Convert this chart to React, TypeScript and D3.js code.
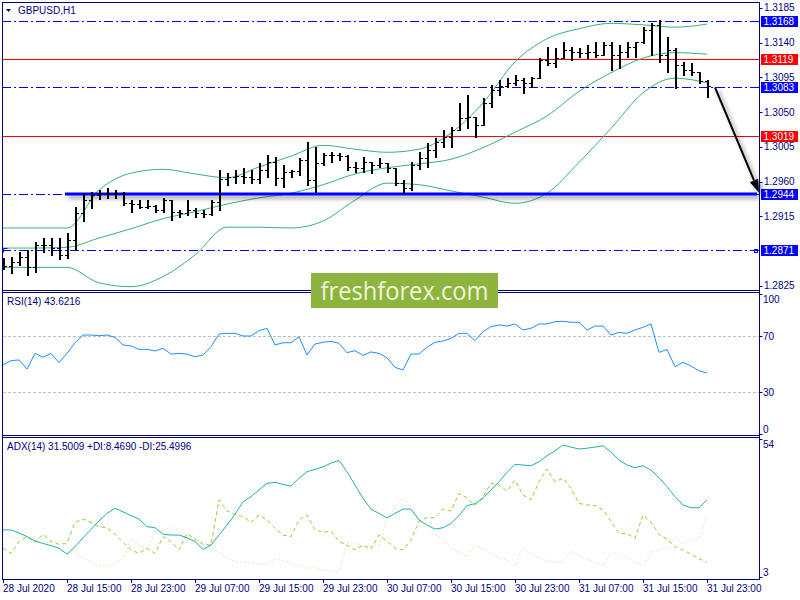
import React from "react";
import * as d3 from "d3";

// GBPUSD H1, 28 Jul 07:00 .. 31 Jul 23:00 (89 bars)

const timeLabels = ["28 Jul 2020", "28 Jul 15:00", "28 Jul 23:00", "29 Jul 07:00", "29 Jul 15:00", "29 Jul 23:00",
    "30 Jul 07:00", "30 Jul 15:00", "30 Jul 23:00", "31 Jul 07:00", "31 Jul 15:00", "31 Jul 23:00"];
const timeLabelBars = [0, 8, 16, 24, 32, 40, 48, 56, 64, 72, 80, 88];

const opens = [
    1.2856, 1.2851, 1.2856, 1.2862, 1.2849, 1.2878, 1.2878, 1.2874, 1.2865, 1.2884,
    1.2919, 1.2936, 1.2943, 1.2945, 1.2944, 1.2945, 1.2932, 1.2931, 1.2927, 1.2928,
    1.2923, 1.2936, 1.2921, 1.2919, 1.2923, 1.2919, 1.2918, 1.2934, 1.2963, 1.2966,
    1.2967, 1.2966, 1.2963, 1.2975, 1.2985, 1.2965, 1.2972, 1.2974, 1.2988, 1.2962,
    1.2984, 1.2995, 1.2995, 1.2993, 1.2979, 1.2978, 1.2985, 1.2981, 1.2984, 1.2978,
    1.2958, 1.2952, 1.2981, 1.2991, 1.3001, 1.3011, 1.3018, 1.3027, 1.3042, 1.3044,
    1.3033, 1.3062, 1.3079, 1.3084, 1.3088, 1.3092, 1.3088, 1.3094, 1.3118, 1.3114,
    1.3120, 1.3130, 1.3128, 1.3127, 1.3128, 1.3124, 1.3137, 1.3124, 1.3128, 1.3134,
    1.3141, 1.3156, 1.3163, 1.3124, 1.3130, 1.3111, 1.3105, 1.3102, 1.3090];
const highs = [
    1.2861, 1.2862, 1.2869, 1.2872, 1.2882, 1.2887, 1.2887, 1.2887, 1.2893, 1.2927,
    1.2945, 1.2947, 1.2949, 1.2952, 1.2949, 1.2947, 1.2936, 1.2936, 1.2936, 1.2930,
    1.2939, 1.2936, 1.2923, 1.2936, 1.2926, 1.2923, 1.2936, 1.2975, 1.2971, 1.2975,
    1.2978, 1.2975, 1.2984, 1.2995, 1.2992, 1.2981, 1.2975, 1.2991, 1.3011, 1.3005,
    1.2997, 1.2998, 1.2997, 1.2995, 1.2985, 1.2992, 1.2985, 1.2991, 1.2984, 1.2978,
    1.2962, 1.2985, 1.2998, 1.3010, 1.3016, 1.3027, 1.3031, 1.3062, 1.3072, 1.3044,
    1.3068, 1.3085, 1.3092, 1.3094, 1.3098, 1.3094, 1.3096, 1.3120, 1.3134, 1.3133,
    1.3141, 1.3134, 1.3133, 1.3137, 1.3141, 1.3141, 1.3141, 1.3137, 1.3141, 1.3141,
    1.3160, 1.3165, 1.3169, 1.3147, 1.3133, 1.3115, 1.3114, 1.3102, 1.3092];
const lows = [
    1.2847, 1.2842, 1.2852, 1.2839, 1.2843, 1.2869, 1.2865, 1.2860, 1.2861, 1.2872,
    1.2909, 1.2926, 1.2937, 1.2939, 1.2939, 1.2930, 1.2921, 1.2926, 1.2926, 1.2921,
    1.2921, 1.2910, 1.2914, 1.2917, 1.2914, 1.2914, 1.2917, 1.2923, 1.2956, 1.2958,
    1.2958, 1.2958, 1.2958, 1.2966, 1.2956, 1.2953, 1.2966, 1.2969, 1.2956, 1.2947,
    1.2981, 1.2985, 1.2988, 1.2975, 1.2972, 1.2972, 1.2971, 1.2979, 1.2972, 1.2956,
    1.2945, 1.2949, 1.2976, 1.2979, 1.2992, 1.3005, 1.3005, 1.3027, 1.3029, 1.3018,
    1.3033, 1.3057, 1.3072, 1.3083, 1.3085, 1.3075, 1.3083, 1.3094, 1.3111, 1.3108,
    1.3120, 1.3118, 1.3121, 1.3120, 1.3121, 1.3124, 1.3105, 1.3107, 1.3121, 1.3121,
    1.3140, 1.3124, 1.3115, 1.3102, 1.3081, 1.3098, 1.3098, 1.3088, 1.3070];
const closes = [
    1.2851, 1.2856, 1.2862, 1.2849, 1.2878, 1.2878, 1.2874, 1.2865, 1.2884, 1.2919,
    1.2936, 1.2943, 1.2945, 1.2944, 1.2945, 1.2932, 1.2931, 1.2927, 1.2928, 1.2923,
    1.2936, 1.2921, 1.2919, 1.2923, 1.2919, 1.2918, 1.2934, 1.2963, 1.2966, 1.2967,
    1.2966, 1.2963, 1.2975, 1.2985, 1.2965, 1.2972, 1.2974, 1.2988, 1.2962, 1.2984,
    1.2995, 1.2995, 1.2993, 1.2979, 1.2978, 1.2985, 1.2981, 1.2984, 1.2978, 1.2958,
    1.2952, 1.2981, 1.2991, 1.3001, 1.3011, 1.3018, 1.3027, 1.3042, 1.3044, 1.3033,
    1.3062, 1.3079, 1.3084, 1.3088, 1.3092, 1.3088, 1.3094, 1.3118, 1.3114, 1.3120,
    1.3130, 1.3128, 1.3127, 1.3128, 1.3124, 1.3137, 1.3124, 1.3128, 1.3134, 1.3141,
    1.3156, 1.3163, 1.3124, 1.3130, 1.3111, 1.3105, 1.3102, 1.3090, 1.3084];

// Bollinger bands, read every 4th bar
const bandBars = [0, 4, 8, 12, 16, 20, 24, 28, 32, 36, 40, 44, 48, 52, 56, 60, 64, 68, 72, 76, 80, 84, 88];
const bbUpper = [1.2900, 1.2900, 1.2900, 1.2949, 1.2971, 1.2976, 1.2970, 1.2965, 1.2979, 1.2993, 1.3007, 1.3002,
    1.2998, 1.3002, 1.3023, 1.3062, 1.3115, 1.3145, 1.3158, 1.3165, 1.3163, 1.3160, 1.3164];
const bbMiddle = [1.2874, 1.2874, 1.2875, 1.2887, 1.2899, 1.2912, 1.2921, 1.2931, 1.2939, 1.2945, 1.2956, 1.2970,
    1.2978, 1.2983, 1.2989, 1.3004, 1.3024, 1.3045, 1.3077, 1.3101, 1.3120, 1.3127, 1.3125];
const bbLower = [1.2849, 1.2849, 1.2849, 1.2829, 1.2824, 1.2837, 1.2865, 1.2901, 1.2901, 1.2900, 1.2909, 1.2936,
    1.2958, 1.2956, 1.2948, 1.2940, 1.2932, 1.2945, 1.2985, 1.3029, 1.3075, 1.3094, 1.3088];

const rsi = [
    49.3, 52.4, 52.9, 46.4, 57.6, 54.8, 57.6, 51.0, 57.6, 65.2,
    70.7, 70.7, 70.2, 70.7, 69.0, 63.6, 62.9, 60.5, 60.5, 59.3,
    61.2, 57.1, 57.6, 57.1, 55.2, 56.4, 62.4, 71.4, 71.9, 71.9,
    70.0, 70.0, 73.8, 75.5, 63.6, 65.2, 65.2, 69.5, 56.4, 64.3,
    65.5, 66.2, 64.8, 58.1, 59.5, 56.2, 58.6, 57.6, 54.5, 47.6,
    45.7, 57.1, 57.1, 61.9, 65.5, 66.4, 68.3, 71.9, 71.9, 66.7,
    73.1, 76.7, 77.9, 77.1, 78.6, 74.3, 75.5, 78.6, 78.6, 80.2,
    80.5, 79.8, 79.8, 74.3, 77.1, 77.1, 70.7, 72.6, 71.9, 74.3,
    76.2, 78.6, 58.3, 60.5, 48.1, 51.2, 48.6, 45.2, 43.6];

const adx = [
    20.4, 20.4, 19.3, 17.9, 16.3, 15.4, 14.6, 13.6, 11.5, 14.2,
    17.5, 20.6, 23.7, 26.5, 28.4, 27.1, 25.7, 24.4, 21.6, 21.2,
    18.8, 18.5, 18.5, 17.5, 16.1, 13.2, 14.8, 18.5, 22.2, 26.2,
    30.8, 32.7, 35.2, 37.6, 38.0, 37.2, 36.6, 39.5, 41.9, 42.8,
    43.7, 45.1, 46.1, 41.9, 37.0, 32.1, 28.1, 26.5, 24.9, 26.5,
    28.1, 28.1, 24.1, 22.2, 20.7, 21.2, 22.8, 25.7, 29.4, 30.1,
    32.1, 35.2, 38.2, 41.7, 44.6, 44.4, 44.1, 45.6, 47.8, 49.6,
    51.8, 51.0, 50.3, 50.6, 51.0, 51.5, 49.1, 46.2, 44.4, 43.4,
    44.1, 42.5, 39.7, 36.4, 32.7, 29.6, 28.6, 28.6, 31.5];
const plusDi = [
    13.6, 11.7, 16.1, 17.9, 15.8, 18.8, 16.1, 15.1, 15.4, 23.2,
    24.4, 23.2, 21.6, 21.2, 18.8, 15.8, 13.0, 11.7, 13.6, 11.7,
    17.9, 16.1, 13.0, 19.1, 17.0, 15.1, 14.8, 31.5, 27.4, 26.2,
    25.3, 23.2, 25.9, 24.1, 21.0, 18.5, 17.9, 24.1, 25.9, 20.4,
    19.5, 20.0, 16.1, 14.8, 13.0, 14.8, 13.3, 18.5, 16.3, 13.6,
    13.0, 16.7, 23.7, 24.9, 24.9, 28.1, 27.4, 33.9, 32.3, 29.4,
    32.7, 37.6, 37.0, 34.8, 38.8, 33.3, 31.5, 38.2, 42.9, 38.2,
    39.5, 35.8, 30.2, 29.6, 29.4, 27.8, 23.5, 19.1, 19.1, 17.3,
    25.9, 23.2, 18.8, 17.0, 14.2, 13.0, 11.4, 9.7, 8.5];
const minusDi = [
    19.8, 17.9, 17.3, 18.5, 16.3, 15.4, 16.1, 16.1, 14.8, 11.7,
    10.1, 8.4, 7.2, 7.1, 8.1, 9.9, 17.0, 14.8, 13.6, 19.5,
    19.8, 22.0, 19.8, 18.5, 16.7, 15.8, 14.2, 12.1, 10.1, 8.7,
    8.4, 8.1, 7.8, 7.9, 9.7, 9.2, 8.1, 7.2, 6.2, 6.5,
    5.6, 5.0, 5.0, 15.4, 15.8, 14.2, 14.2, 14.8, 24.1, 29.0,
    32.1, 29.4, 24.1, 21.2, 18.8, 16.7, 13.8, 12.1, 10.5, 14.6,
    13.6, 11.7, 10.1, 9.3, 7.2, 13.6, 11.7, 10.1, 8.9, 8.7,
    8.1, 12.6, 11.1, 9.7, 8.3, 7.4, 12.1, 11.4, 9.9, 8.4,
    7.2, 12.1, 13.0, 14.2, 17.5, 15.4, 17.0, 17.0, 25.5];

const priceTicks = [1.2825, 1.2915, 1.2960, 1.3005, 1.3050, 1.3095, 1.3140, 1.3185];
const blueLevels = [1.3168, 1.3083, 1.2944, 1.2871];
const redLevels = [1.3119, 1.3019];
const supportPrice = 1.2944;
const supportFromBar = 7.75;
const arrowFrom = { bar: 89, price: 1.3082 };
const arrowTo = { bar: 94.5, price: 1.2946 };
const rsiLevels = [70, 30];
const rsiTicks = [100, 70, 30, 0];
const adxTicks = [54, 3];

const FONT = "'Liberation Sans', Arial, sans-serif";
const FS = 10;
const NAVY = "#000080";
const BLUE = "#0000FF";
const AXIS_X = 759.5;

// scales
const x = d3.scaleLinear().domain([0, 88]).range([3, 707]);
const yPrice = d3.scaleLinear().domain([1.2944, 1.3168]).range([194, 21]);
const yRsi = d3.scaleLinear().domain([0, 100]).range([434, 294]);
const yAdx = d3.scaleLinear().domain([3, 54]).range([577, 439]);

const px = (v: number) => Math.round(v) + 0.5;

function PriceBars() {
    let stems = "", ticks = "";
    opens.forEach((o, i) => {
        const cx = Math.round(x(i));
        stems += `M${cx + 1},${Math.round(yPrice(highs[i]))}V${Math.round(yPrice(lows[i])) + 1}`;
        ticks += `M${cx - 2},${px(yPrice(o))}H${cx + 1}`;
        ticks += `M${cx + 1},${px(yPrice(closes[i]))}H${cx + 4}`;
    });
    return <g stroke="#000" fill="none" shapeRendering="crispEdges">
        <path d={stems} strokeWidth={2} />
        <path d={ticks} strokeWidth={1.6} />
    </g>;
}

function Bands() {
    const line = d3.line<number>()
        .x((_, k) => x(bandBars[k]))
        .y(v => yPrice(v))
        .curve(d3.curveMonotoneX);
    return <g fill="none" stroke="#3CB371" strokeWidth={1}>
        <path d={line(bbUpper)!} />
        <path d={line(bbMiddle)!} />
        <path d={line(bbLower)!} />
    </g>;
}

function LevelBox({ price, color }: { price: number, color: string }) {
    const y = Math.round(yPrice(price));
    return <g>
        <rect x={761} y={y - 5} width={37} height={11} fill={color} />
        <text x={763.5} y={y + 4} fill="#fff" fontSize={FS} fontFamily={FONT}>{price.toFixed(4)}</text>
    </g>;
}

function Arrow() {
    const x1 = x(arrowFrom.bar), y1 = yPrice(arrowFrom.price);
    const x2 = x(arrowTo.bar), y2 = yPrice(arrowTo.price);
    const len = Math.hypot(x2 - x1, y2 - y1);
    const ux = (x2 - x1) / len, uy = (y2 - y1) / len;
    const bx = x2 - ux * 13, by = y2 - uy * 13;
    const head = `M${x2},${y2}L${bx - uy * 4.5},${by + ux * 4.5}L${bx + uy * 4.5},${by - ux * 4.5}Z`;
    return <g filter="url(#shadow)">
        <line x1={x1} y1={y1} x2={bx} y2={by} stroke="#000" strokeWidth={2} />
        <path d={head} fill="#000" />
    </g>;
}

function MainPane() {
    const y1 = px(yPrice(1.2871));
    return <g>
        <g clipPath="url(#mainClip)">
            {blueLevels.map(p =>
                <path key={"b" + p} d={`M2,${px(yPrice(p))}H${AXIS_X}`}
                    stroke={BLUE} strokeWidth={1} strokeDasharray="9,3,2,3" fill="none" />)}
            {redLevels.map(p =>
                <path key={"r" + p} d={`M2,${px(yPrice(p))}H${AXIS_X}`} stroke="#FF0000" fill="none" />)}
            <Bands />
            <path d={`M${x(supportFromBar)},${yPrice(supportPrice)}H757`}
                stroke={BLUE} strokeWidth={3} fill="none" filter="url(#shadow)" />
            <PriceBars />
            {/* small anchor squares of the 1.2871 line */}
            <path d={`M3.5,${y1 + 2}V${y1 - 2}H7.5`} stroke={BLUE} fill="none" />
            <rect x={754.5} y={y1 - 1} width={3} height={3} stroke={BLUE} fill="none" />
        </g>
        <Arrow />
        <path d="M11,9H6L8.5,12Z" fill={NAVY} />
        <text x={18} y={14} fontSize={FS} fontFamily={FONT} fill={NAVY}>GBPUSD,H1</text>
        {priceTicks.map(p => {
            const y = yPrice(p);
            return <g key={p}>
                <line x1={AXIS_X} x2={AXIS_X + 3} y1={px(y)} y2={px(y)} stroke={NAVY} />
                <text x={764} y={y + 3.5} fontSize={FS} fontFamily={FONT} fill={NAVY}>{p.toFixed(4)}</text>
            </g>;
        })}
        {blueLevels.map(p => <LevelBox key={p} price={p} color={BLUE} />)}
        {redLevels.map(p => <LevelBox key={p} price={p} color="#FF0000" />)}
    </g>;
}

function RsiPane() {
    const line = d3.line<number>().x((_, i) => x(i)).y(v => yRsi(v));
    const labelY: Record<number, number> = { 100: 299, 0: 429 };
    return <g>
        {rsiLevels.map(l =>
            <path key={l} d={`M3,${px(yRsi(l))}H${AXIS_X}`}
                stroke="#C0C0C0" strokeDasharray="3,2" fill="none" />)}
        <path d={line(rsi)!} fill="none" stroke="#1E90FF" strokeWidth={1} />
        <text x={7} y={305} fontSize={FS} fontFamily={FONT} fill={NAVY}>RSI(14) 43.6216</text>
        {rsiTicks.map(t =>
            <g key={t}>
                <line x1={AXIS_X} x2={AXIS_X + 3} y1={px(yRsi(t))} y2={px(yRsi(t))} stroke={NAVY} />
                <text x={763} y={(labelY[t] ?? yRsi(t)) + 3.5} fontSize={FS} fontFamily={FONT} fill={NAVY}>{t}</text>
            </g>)}
    </g>;
}

function AdxPane() {
    const line = d3.line<number>().x((_, i) => x(i)).y(v => yAdx(v));
    const labelY: Record<number, number> = { 54: 444, 3: 572 };
    return <g>
        <path d={line(minusDi)!} fill="none" stroke="#F5DEB3" strokeWidth={1} strokeDasharray="2,2" />
        <path d={line(plusDi)!} fill="none" stroke="#9ACD32" strokeWidth={1} strokeDasharray="4,3" />
        <path d={line(adx)!} fill="none" stroke="#20B2AA" strokeWidth={1} />
        <text x={7} y={450} fontSize={FS} fontFamily={FONT} fill={NAVY}>ADX(14) 31.5009 +DI:8.4690 -DI:25.4996</text>
        {adxTicks.map(t =>
            <g key={t}>
                <line x1={AXIS_X} x2={AXIS_X + 3} y1={px(yAdx(t))} y2={px(yAdx(t))} stroke={NAVY} />
                <text x={763} y={labelY[t] + 3.5} fontSize={FS} fontFamily={FONT} fill={NAVY}>{t}</text>
            </g>)}
    </g>;
}

function TimeAxis() {
    return <g>
        {timeLabels.map((lab, k) => {
            const tx = Math.round(x(timeLabelBars[k]));
            return <g key={lab}>
                <line x1={tx + 0.5} x2={tx + 0.5} y1={579} y2={583} stroke={NAVY} />
                <text x={tx} y={592} fontSize={FS} fontFamily={FONT} fill={NAVY}>{lab}</text>
            </g>;
        })}
    </g>;
}

export default function App() {
    // pane frames (y of horizontal borders)
    const hBorders = [2.5, 290.5, 292.5, 435.5, 437.5, 579.5];
    return <svg width={800} height={600} viewBox="0 0 800 600"
        style={{ position: "absolute", left: 0, top: 0, background: "#fff" }}>
        <defs>
            <clipPath id="mainClip"><rect x={2} y={3} width={757} height={287} /></clipPath>
            <filter id="shadow" filterUnits="userSpaceOnUse" x={0} y={0} width={800} height={600}>
                <feGaussianBlur in="SourceAlpha" stdDeviation={2} />
                <feOffset dx={3} dy={3} result="off" />
                <feComponentTransfer><feFuncA type="linear" slope={0.45} /></feComponentTransfer>
                <feMerge><feMergeNode /><feMergeNode in="SourceGraphic" /></feMerge>
            </filter>
        </defs>
        <rect width={800} height={600} fill="#fff" />
        <MainPane />
        <RsiPane />
        <AdxPane />
        <TimeAxis />
        <g stroke={NAVY} strokeWidth={1} shapeRendering="crispEdges">
            {hBorders.map(y => <line key={y} x1={2} x2={AXIS_X} y1={y} y2={y} />)}
            <line x1={2.5} x2={2.5} y1={2} y2={580} />
            <line x1={AXIS_X} x2={AXIS_X} y1={2} y2={580} />
        </g>
        {/* watermark */}
        <rect x={311} y={273} width={187} height={35} fill="#8CB43F" />
        <text x={404.5} y={300} textAnchor="middle" fontSize={25} fontFamily="'Open Sans', 'DejaVu Sans', sans-serif"
            fill="#F2F6DA" textLength={168} lengthAdjust="spacingAndGlyphs">freshforex.com</text>
    </svg>;
}
